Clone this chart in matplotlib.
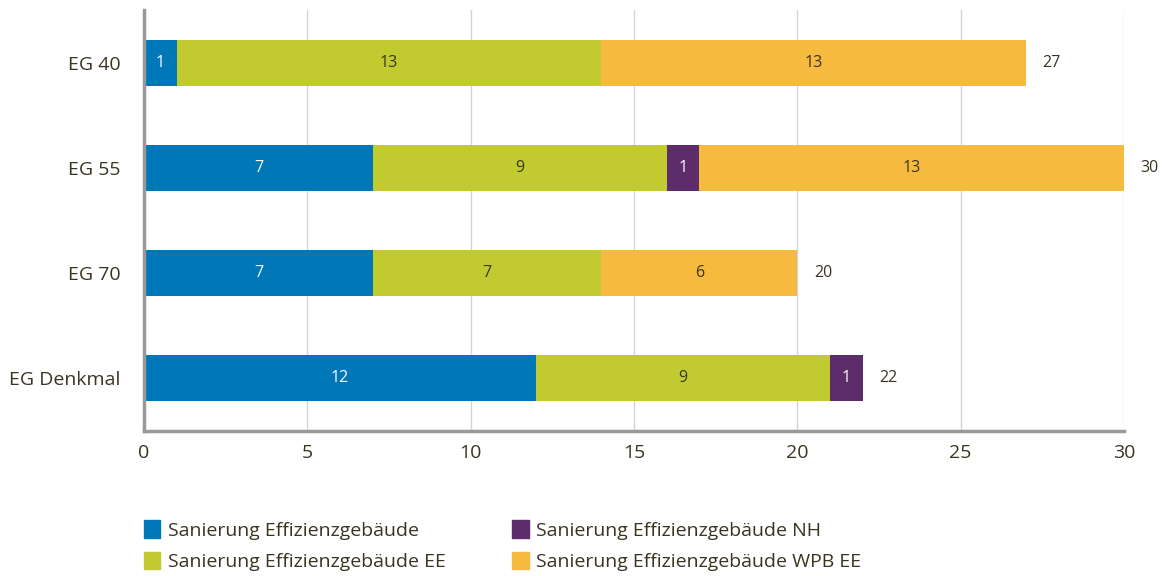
import matplotlib
matplotlib.use("Agg")
import matplotlib.pyplot as plt
from matplotlib.patches import Patch

categories = ["EG 40", "EG 55", "EG 70", "EG Denkmal"]
series_names = ["Sanierung Effizienzgebäude", "Sanierung Effizienzgebäude EE",
                "Sanierung Effizienzgebäude NH", "Sanierung Effizienzgebäude WPB EE"]
sanierung = [1, 7, 7, 12]
sanierung_ee = [13, 9, 7, 9]
sanierung_nh = [0, 1, 0, 1]
sanierung_wpb = [13, 13, 6, 0]
totals = [27, 30, 20, 22]
x_ticks = [0, 5, 10, 15, 20, 25, 30]

colors = ["#0077B6", "#C1CB30", "#5C2D6A", "#F6BA3E"]
label_colors = ["white", "#3A3520", "white", "#3A3520"]
text_color = "#3A3520"

plt.rcParams['font.family'] = ['Open Sans', 'DejaVu Sans']

fig = plt.figure(figsize=(11.67, 5.76), dpi=100)
ax = fig.add_axes([144/1167, 1 - 431/576, (1124 - 144)/1167, (431 - 10)/576])

series = [sanierung, sanierung_ee, sanierung_nh, sanierung_wpb]
ypos = list(range(len(categories)))
left = [0] * len(categories)
for vals, col, lc in zip(series, colors, label_colors):
    bars = ax.barh(ypos, vals, left=left, height=0.43, color=col, zorder=3)
    for b, v in zip(bars, vals):
        if v > 0:
            ax.text(b.get_x() + b.get_width() / 2, b.get_y() + b.get_height() / 2,
                    str(v), ha='center', va='center', color=lc, fontsize=11.5, zorder=4)
    left = [l + v for l, v in zip(left, vals)]

for y, t in zip(ypos, totals):
    ax.annotate(str(t), xy=(t, y), xytext=(12, 0), textcoords='offset points',
                ha='left', va='center', color=text_color, fontsize=11.5)

ax.set_xlim(0, 30)
ax.set_ylim(3.505, -0.505)
ax.set_yticks(ypos)
ax.set_yticklabels(categories)
ax.set_xticks(x_ticks)
ax.tick_params(axis='both', length=0, colors=text_color, labelsize=14)
ax.tick_params(axis='y', pad=17)
ax.tick_params(axis='x', pad=9)
ax.grid(axis='x', color='#D5D5D5', linewidth=1, zorder=0)
for s in ['top', 'right']:
    ax.spines[s].set_visible(False)
for s in ['left', 'bottom']:
    ax.spines[s].set_color('#999999')
    ax.spines[s].set_linewidth(2.5)
    ax.spines[s].set_zorder(5)

handles = [Patch(color=colors[0]), Patch(color=colors[1]), Patch(color=colors[2]), Patch(color=colors[3])]
labels = [series_names[0], series_names[1], series_names[2], series_names[3]]
leg = fig.legend(handles, labels, ncol=2, loc='upper left',
                 bbox_to_anchor=(126/1167, 1 - 503/576), frameon=False,
                 fontsize=14, handlelength=0.87, handleheight=1.0, handletextpad=0.41,
                 columnspacing=3.36, labelspacing=0.6)
for t in leg.get_texts():
    t.set_color(text_color)

fig.savefig("out.png", dpi=100)
